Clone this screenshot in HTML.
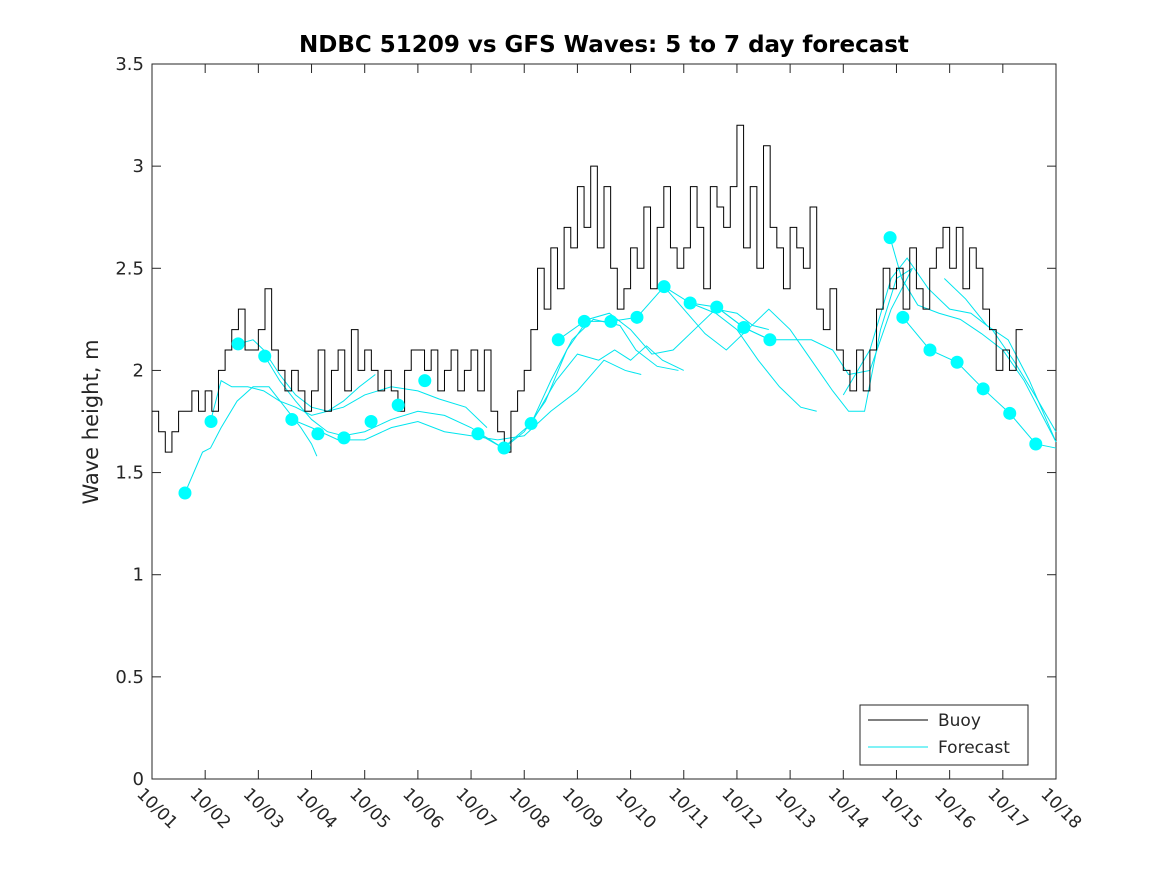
<!DOCTYPE html>
<html><head><meta charset="utf-8"><style>
body{margin:0;background:#fff;font-family:"Liberation Sans","DejaVu Sans",sans-serif}
svg text{font-family:"DejaVu Sans","Liberation Sans",sans-serif}
</style></head><body>
<svg id="c" width="1167" height="875" xmlns="http://www.w3.org/2000/svg"></svg>
<script>
const xTickLabels=["10/01","10/02","10/03","10/04","10/05","10/06","10/07","10/08","10/09","10/10","10/11","10/12","10/13","10/14","10/15","10/16","10/17","10/18"];
const yTicks=[0,0.5,1,1.5,2,2.5,3,3.5];
const yTickLabels=["0","0.5","1","1.5","2","2.5","3","3.5"];
const buoyStep=0.125;
const buoyValues=[1.8,1.7,1.6,1.7,1.8,1.8,1.9,1.8,1.9,1.8,2.0,2.1,2.2,2.3,2.1,2.1,2.2,2.4,2.1,2.0,1.9,2.0,1.9,1.8,1.9,2.1,1.8,2.0,2.1,1.9,2.2,2.0,2.1,2.0,1.9,2.0,1.9,1.8,2.0,2.1,2.1,2.0,2.1,1.9,2.0,2.1,1.9,2.0,2.1,1.9,2.1,1.8,1.7,1.6,1.8,1.9,2.0,2.2,2.5,2.3,2.6,2.4,2.7,2.6,2.9,2.7,3.0,2.6,2.9,2.5,2.3,2.4,2.6,2.5,2.8,2.4,2.7,2.9,2.6,2.5,2.6,2.9,2.7,2.4,2.9,2.8,2.7,2.9,3.2,2.6,2.9,2.5,3.1,2.7,2.6,2.4,2.7,2.6,2.5,2.8,2.3,2.2,2.4,2.1,2.0,1.9,2.1,1.9,2.1,2.3,2.5,2.4,2.5,2.3,2.6,2.4,2.3,2.5,2.6,2.7,2.5,2.7,2.4,2.6,2.5,2.3,2.2,2.0,2.1,2.0,2.2];
const dotDays=[0.62,1.11,1.62,2.12,2.63,3.12,3.61,4.12,4.63,5.13,6.13,6.62,7.13,7.64,8.13,8.63,9.12,9.63,10.12,10.62,11.13,11.62,13.88,14.12,14.63,15.14,15.63,16.13,16.62];
const dotValues=[1.40,1.75,2.13,2.07,1.76,1.69,1.67,1.75,1.83,1.95,1.69,1.62,1.74,2.15,2.24,2.24,2.26,2.41,2.33,2.31,2.21,2.15,2.65,2.26,2.10,2.04,1.91,1.79,1.64];
const run1=[[0.62,1.40],[0.95,1.60],[1.1,1.62],[1.3,1.72],[1.6,1.85],[1.9,1.92],[2.2,1.92],[2.5,1.82],[2.8,1.72],[3.0,1.64],[3.1,1.58]];
const run2=[[1.1,1.75],[1.3,1.95],[1.5,1.92],[1.8,1.92],[2.1,1.90],[2.4,1.85],[2.7,1.82],[3.0,1.78],[3.3,1.80],[3.6,1.85],[3.9,1.92],[4.2,1.98]];
const run3=[[1.62,2.13],[1.9,2.15],[2.1,2.10],[2.4,1.98],[2.7,1.88],[3.0,1.82],[3.3,1.80],[3.6,1.82],[4.0,1.88],[4.5,1.92],[5.0,1.90],[5.4,1.86],[5.9,1.82],[6.3,1.72]];
const run4=[[2.12,2.07],[2.4,1.95],[2.7,1.85],[3.0,1.76],[3.3,1.70],[3.6,1.68],[4.0,1.70],[4.5,1.76],[5.0,1.80],[5.5,1.78],[6.0,1.72],[6.6,1.62]];
const run5=[[2.63,1.76],[3.0,1.72],[3.5,1.66],[4.0,1.66],[4.5,1.72],[5.0,1.75],[5.5,1.70],[6.0,1.68],[6.5,1.66],[7.0,1.68],[7.5,1.80],[8.0,1.90],[8.5,2.05],[8.9,2.00],[9.2,1.98]];
const run6=[[6.13,1.69],[6.6,1.62],[7.13,1.74],[7.5,1.95],[7.9,2.15],[8.3,2.25],[8.8,2.22],[9.1,2.10],[9.5,2.02],[9.9,2.00]];
const run7=[[6.62,1.62],[7.0,1.70],[7.4,1.85],[7.8,2.10],[8.2,2.25],[8.6,2.28],[9.0,2.20],[9.4,2.08],[9.8,2.10],[10.2,2.20],[10.6,2.30],[11.0,2.28],[11.3,2.22],[11.6,2.20]];
const run8=[[7.13,1.74],[7.6,1.95],[8.0,2.08],[8.4,2.05],[8.7,2.10],[9.0,2.05],[9.3,2.12],[9.6,2.05],[10.0,2.00]];
const run9=[[7.64,2.15],[8.13,2.24],[8.63,2.24],[9.12,2.26],[9.63,2.41],[10.12,2.33],[10.62,2.31],[11.13,2.21],[11.62,2.15]];
const run10=[[9.63,2.41],[10.0,2.30],[10.4,2.18],[10.8,2.10],[11.2,2.20],[11.6,2.30],[12.0,2.20],[12.4,2.05],[12.8,1.90],[13.1,1.80],[13.4,1.80],[13.7,2.20],[14.0,2.45],[14.3,2.50]];
const run11=[[10.12,2.33],[10.6,2.28],[11.0,2.20],[11.4,2.05],[11.8,1.92],[12.2,1.82],[12.5,1.80]];
const run12=[[10.62,2.31],[11.13,2.21],[11.62,2.15],[12.0,2.15],[12.4,2.15],[12.8,2.10],[13.1,1.98],[13.5,2.00],[13.9,2.30],[14.3,2.50]];
const run13=[[13.88,2.65],[14.1,2.45],[14.4,2.32],[14.8,2.28],[15.2,2.25],[15.6,2.18],[16.0,2.10],[16.4,1.95],[16.8,1.75],[17.0,1.65]];
const run14=[[14.12,2.26],[14.63,2.10],[15.14,2.04],[15.63,1.91],[16.13,1.79],[16.62,1.64],[17.0,1.62]];
const run15=[[13.0,1.88],[13.5,2.10],[13.9,2.45],[14.2,2.55],[14.6,2.40],[15.0,2.30],[15.4,2.28],[15.8,2.20],[16.2,2.05],[16.6,1.88],[17.0,1.70]];
const run16=[[14.9,2.45],[15.3,2.35],[15.7,2.22],[16.1,2.15],[16.5,1.95],[17.0,1.65]];
const runs=[run1,run2,run3,run4,run5,run6,run7,run8,run9,run10,run11,run12,run13,run14,run15,run16];

const L=152,R=1056,T=64,B=779;
const xs=d=>L+(R-L)*d/17, ys=v=>B-(B-T)*v/3.5;
const svg=document.getElementById('c');const NS="http://www.w3.org/2000/svg";
function mk(t,a,p){const e=document.createElementNS(NS,t);for(const k in a)e.setAttribute(k,a[k]);(p||svg).appendChild(e);return e;}
const bg=mk('rect',{x:L,y:T,width:R-L,height:B-T,fill:'#fff',stroke:'#262626','stroke-width':1});


xTickLabels.forEach((lab,i)=>{const x=xs(i);
 mk('line',{x1:x,y1:B,x2:x,y2:B-9,stroke:'#262626'});mk('line',{x1:x,y1:T,x2:x,y2:T+9,stroke:'#262626'});
 const t=mk('text',{x:x-16,y:B+16,'font-size':17,fill:'#262626',transform:`rotate(45 ${x-16} ${B+16})`});t.textContent=lab;
 
 });
yTicks.forEach((v,i)=>{const y=ys(v);
 mk('line',{x1:L,y1:y,x2:L+9,y2:y,stroke:'#262626'});mk('line',{x1:R,y1:y,x2:R-9,y2:y,stroke:'#262626'});
 const t=mk('text',{x:L-8,y:y+6,'font-size':18,fill:'#262626','text-anchor':'end'});t.textContent=yTickLabels[i];
 
 });
const yl=mk('text',{x:98,y:422,'font-size':21,fill:'#262626','text-anchor':'middle',transform:'rotate(-90 98 422)'});yl.textContent='Wave height, m';


const ti=mk('text',{x:604,y:52,'font-size':23,'font-weight':'bold',fill:'#000','text-anchor':'middle'});ti.textContent='NDBC 51209 vs GFS Waves: 5 to 7 day forecast';


runs.forEach(r=>{const p=mk('polyline',{points:r.map(q=>xs(q[0])+','+ys(q[1])).join(' '),fill:'none',stroke:'#00e5ee','stroke-width':1});
 
 });
let pts=[];
buoyValues.forEach((v,i)=>{pts.push(xs(i*buoyStep)+','+ys(v));pts.push(xs((i+1)*buoyStep)+','+ys(v));});
const bp=mk('polyline',{points:pts.join(' '),fill:'none',stroke:'#000','stroke-width':1});


dotDays.forEach((d,i)=>{const c=mk('circle',{cx:xs(d),cy:ys(dotValues[i]),r:6.5,fill:'#00ffff'});
 
 });
const lg=mk('g',{});


mk('rect',{x:860,y:705,width:168,height:60,fill:'#fff',stroke:'#262626'},lg);
mk('line',{x1:868,y1:720,x2:928,y2:720,stroke:'#000'},lg);
mk('line',{x1:868,y1:747,x2:928,y2:747,stroke:'#00e5ee'},lg);
const t1=mk('text',{x:938,y:726,'font-size':17,fill:'#262626'},lg);t1.textContent='Buoy';


const t2=mk('text',{x:938,y:753,'font-size':17,fill:'#262626'},lg);t2.textContent='Forecast';


</script>
</body></html>
